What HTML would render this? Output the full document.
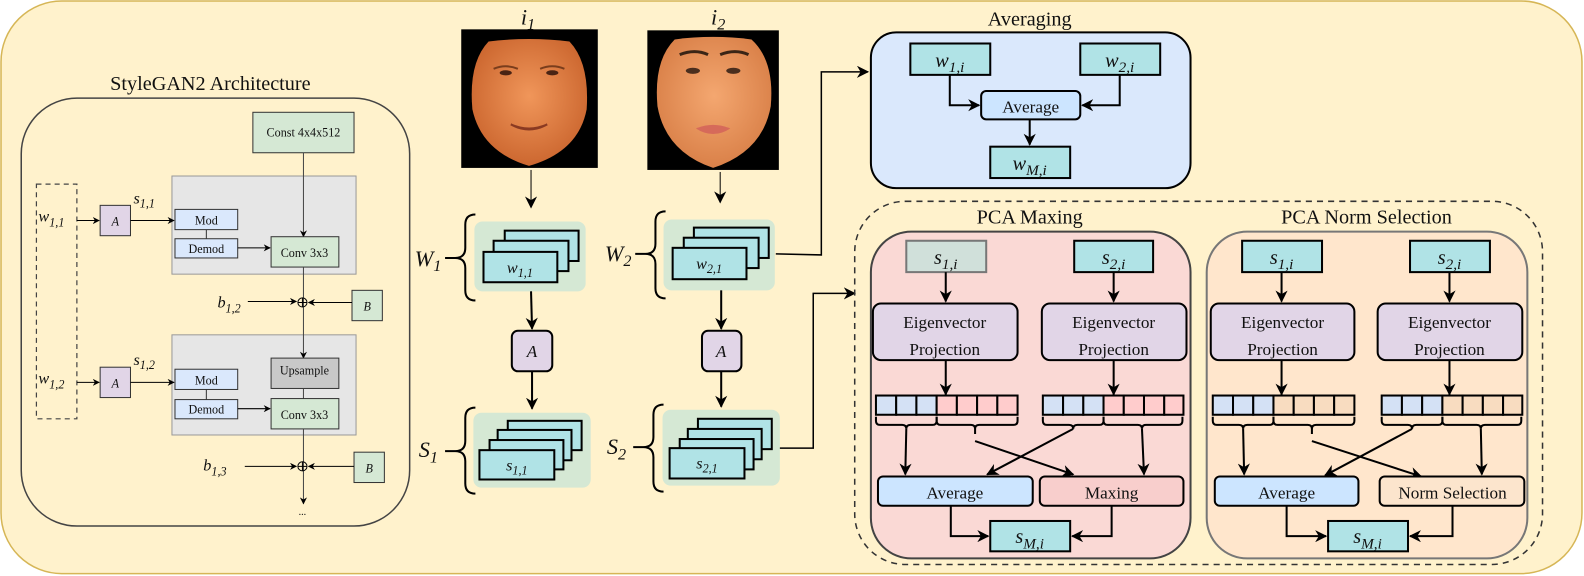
<!DOCTYPE html>
<html><head><meta charset="utf-8"><style>
html,body{margin:0;padding:0;background:#fff;}
svg{display:block;font-family:"Liberation Serif","DejaVu Serif",serif;}
svg text{font-family:"Liberation Serif","DejaVu Serif",serif !important;fill:#111;}
.it{font-style:italic;}
</style></head><body>
<svg width="1584" height="576" viewBox="0 0 1566 569.4" preserveAspectRatio="none" xmlns="http://www.w3.org/2000/svg" font-family="Liberation Serif, DejaVu Serif, serif">
<defs>
<marker id="ar" viewBox="0 0 10 10" refX="9" refY="5" markerWidth="7" markerHeight="7" orient="auto" markerUnits="userSpaceOnUse">
<path d="M0,0 L10,5 L0,10 L3,5 Z" fill="#000"/></marker>
<marker id="ab" viewBox="0 0 10 10" refX="9" refY="5" markerWidth="12" markerHeight="12" orient="auto" markerUnits="userSpaceOnUse">
<path d="M0,0 L10,5 L0,10 L3,5 Z" fill="#000"/></marker>
<radialGradient id="sk1" cx="50%" cy="45%" r="60%"><stop offset="0" stop-color="#f0965a"/><stop offset="1" stop-color="#c9632c"/></radialGradient>
<radialGradient id="sk2" cx="50%" cy="45%" r="60%"><stop offset="0" stop-color="#f4a770"/><stop offset="1" stop-color="#d77d45"/></radialGradient>
</defs>
<rect x="1" y="1" width="1563" height="566" rx="60" fill="#fff2cc" stroke="#d6b656" stroke-width="1.5"/>

<!-- StyleGAN2 -->
<text x="208" y="89" font-size="20" text-anchor="middle">StyleGAN2 Architecture</text>
<rect x="21" y="97" width="384" height="423" rx="55" fill="none" stroke="#444" stroke-width="1.5"/>
<rect x="250" y="111" width="100" height="40" fill="#d5e8d4" stroke="#333"/>
<text x="300" y="135" font-size="12" text-anchor="middle">Const 4x4x512</text>
<rect x="170" y="174" width="182" height="97" fill="#e6e6e6" stroke="#999"/>
<rect x="170" y="331" width="182" height="99" fill="#e6e6e6" stroke="#999"/>
<rect x="36" y="182" width="40" height="232" fill="none" stroke="#444" stroke-dasharray="5,4" stroke-width="1.2"/>
<text x="38" y="219" font-size="16" class="it">w<tspan font-size="12" dy="5">1,1</tspan></text>
<text x="38" y="379" font-size="16" class="it">w<tspan font-size="12" dy="5">1,2</tspan></text>
<line x1="76" y1="218" x2="98" y2="218" stroke="#000" marker-end="url(#ar)"/>
<line x1="76" y1="378" x2="98" y2="378" stroke="#000" marker-end="url(#ar)"/>
<rect x="99" y="203" width="30" height="30" fill="#e1d5e7" stroke="#333"/>
<text x="114" y="223" font-size="12" class="it" text-anchor="middle">A</text>
<rect x="99" y="363" width="30" height="30" fill="#e1d5e7" stroke="#333"/>
<text x="114" y="383" font-size="12" class="it" text-anchor="middle">A</text>
<line x1="129" y1="218" x2="172" y2="218" stroke="#000" marker-end="url(#ar)"/>
<line x1="129" y1="378" x2="172" y2="378" stroke="#000" marker-end="url(#ar)"/>
<text x="132" y="201" font-size="16" class="it">s<tspan font-size="12" dy="4">1,1</tspan></text>
<text x="132" y="361" font-size="16" class="it">s<tspan font-size="12" dy="4">1,2</tspan></text>
<rect x="173" y="207" width="62" height="20" fill="#dae8fc" stroke="#333"/>
<text x="204" y="222" font-size="12" text-anchor="middle">Mod</text>
<rect x="173" y="236" width="62" height="19" fill="#dae8fc" stroke="#333"/>
<text x="204" y="250" font-size="12" text-anchor="middle">Demod</text>
<line x1="204" y1="227" x2="204" y2="236" stroke="#333"/>
<rect x="173" y="365" width="62" height="20" fill="#dae8fc" stroke="#333"/>
<text x="204" y="380" font-size="12" text-anchor="middle">Mod</text>
<rect x="173" y="395" width="62" height="19" fill="#dae8fc" stroke="#333"/>
<text x="204" y="409" font-size="12" text-anchor="middle">Demod</text>
<line x1="204" y1="385" x2="204" y2="395" stroke="#333"/>
<line x1="235" y1="245" x2="267" y2="245" stroke="#000" marker-end="url(#ar)"/>
<line x1="235" y1="404" x2="267" y2="404" stroke="#000" marker-end="url(#ar)"/>
<line x1="300" y1="151" x2="300" y2="234" stroke="#444" marker-end="url(#ar)"/>
<rect x="268" y="234" width="67" height="30" fill="#d5e8d4" stroke="#333"/>
<text x="301" y="254" font-size="12" text-anchor="middle">Conv 3x3</text>
<line x1="300" y1="264" x2="300" y2="354" stroke="#444" marker-end="url(#ar)"/>
<rect x="268" y="354" width="67" height="30" fill="#c8c8c8" stroke="#333"/>
<text x="301" y="370" font-size="12" text-anchor="middle">Upsample</text>
<line x1="300" y1="384" x2="300" y2="394" stroke="#444"/>
<rect x="268" y="394" width="67" height="30" fill="#d5e8d4" stroke="#333"/>
<text x="301" y="414" font-size="12" text-anchor="middle">Conv 3x3</text>
<line x1="300" y1="424" x2="300" y2="498" stroke="#444" marker-end="url(#ar)"/>
<text x="299" y="509" font-size="10" text-anchor="middle">...</text>
<circle cx="299" cy="299" r="4.5" fill="none" stroke="#000"/><path d="M294.5,299h9M299,294.5v9" stroke="#000"/>
<circle cx="299" cy="461" r="4.5" fill="none" stroke="#000"/><path d="M294.5,461h9M299,456.5v9" stroke="#000"/>
<text x="215" y="304" font-size="16" class="it">b<tspan font-size="12" dy="5">1,2</tspan></text>
<text x="201" y="465" font-size="16" class="it">b<tspan font-size="12" dy="5">1,3</tspan></text>
<line x1="245" y1="298" x2="293" y2="298" stroke="#000" marker-end="url(#ar)"/>
<line x1="242" y1="461" x2="293" y2="461" stroke="#000" marker-end="url(#ar)"/>
<rect x="348" y="287" width="30" height="30" fill="#d5e8d4" stroke="#333"/>
<text x="363" y="307" font-size="12" class="it" text-anchor="middle">B</text>
<rect x="350" y="447" width="30" height="30" fill="#d5e8d4" stroke="#333"/>
<text x="365" y="467" font-size="12" class="it" text-anchor="middle">B</text>
<line x1="348" y1="299" x2="305" y2="299" stroke="#000" marker-end="url(#ar)"/>
<line x1="350" y1="461" x2="305" y2="461" stroke="#000" marker-end="url(#ar)"/>

<!-- faces -->
<text x="522" y="24" font-size="22" class="it" text-anchor="middle">i<tspan font-size="16" dy="5">1</tspan></text>
<text x="710" y="24" font-size="22" class="it" text-anchor="middle">i<tspan font-size="16" dy="5">2</tspan></text>
<rect x="456" y="29" width="135" height="137" fill="#000"/>
<path d="M483,41 Q523,36 563,41 Q583,62 580,108 Q572,150 523,164 Q476,150 467,108 Q463,62 483,41Z" fill="url(#sk1)"/>
<path d="M488,68q12,-5 24,0M534,68q12,-5 24,0" stroke="#7a3d1c" stroke-width="2" fill="none"/>
<ellipse cx="500" cy="72" rx="6" ry="2.5" fill="#4a2414"/><ellipse cx="546" cy="72" rx="6" ry="2.5" fill="#4a2414"/>
<path d="M505,123 q18,10 36,0 q-18,8 -36,0" fill="#fff0d0" stroke="#8a3a22" stroke-width="2"/>
<rect x="640" y="30" width="130" height="138" fill="#000"/>
<path d="M667,39 Q705,34 743,39 Q766,60 762,105 Q754,150 705,166 Q658,150 650,105 Q646,60 667,39Z" fill="url(#sk2)"/>
<path d="M672,54q15,-6 28,0M712,54q15,-6 28,0" stroke="#3a2516" stroke-width="3" fill="none"/>
<ellipse cx="685" cy="70" rx="7" ry="3" fill="#4a2e1e"/><ellipse cx="725" cy="70" rx="7" ry="3" fill="#4a2e1e"/>
<path d="M688,127 q17,-7 34,0 q-17,11 -34,0Z" fill="#d66a5a"/>
<line x1="525" y1="168" x2="525" y2="205" stroke="#000" marker-end="url(#ab)"/>
<line x1="712" y1="170" x2="712" y2="200" stroke="#000" marker-end="url(#ab)"/>

<!-- W1 / S1 -->
<g stroke="#000" stroke-width="2" fill="none">
<path d="M470,212 q-10,0 -10,10 v23 q0,10 -10,10 q10,0 10,10 v22 q0,10 10,10 M440,255 h10"/>
<path d="M470,403 q-10,0 -10,10 v23 q0,10 -10,10 q10,0 10,10 v22 q0,10 10,10 M440,446 h10"/>
<path d="M658,209 q-10,0 -10,10 v22 q0,10 -10,10 q10,0 10,10 v24 q0,10 10,10 M628,251 h10"/>
<path d="M656,400 q-10,0 -10,10 v22 q0,10 -10,10 q10,0 10,10 v24 q0,10 10,10 M626,442 h10"/>
</g>
<text x="410" y="263" font-size="22" class="it">W<tspan font-size="16" dy="5">1</tspan></text>
<text x="414" y="452" font-size="22" class="it">S<tspan font-size="16" dy="5">1</tspan></text>
<text x="598" y="258" font-size="22" class="it">W<tspan font-size="16" dy="5">2</tspan></text>
<text x="600" y="449" font-size="22" class="it">S<tspan font-size="16" dy="5">2</tspan></text>

<g stroke="#000" stroke-width="2" fill="#b0e3e6">
<rect x="469" y="219" width="110" height="69" rx="8" fill="#d5e8d4" stroke="none"/>
<rect x="499" y="228" width="73" height="30"/><rect x="488" y="238" width="74" height="30"/><rect x="478" y="249" width="73" height="30"/>
<rect x="468" y="408" width="116" height="74" rx="8" fill="#d5e8d4" stroke="none"/>
<rect x="502" y="416" width="73" height="29"/><rect x="492" y="425" width="73" height="30"/><rect x="484" y="435" width="73" height="29"/><rect x="474" y="445" width="74" height="29"/>
<rect x="656" y="217" width="110" height="70" rx="8" fill="#d5e8d4" stroke="none"/>
<rect x="686" y="225" width="74" height="30"/><rect x="676" y="235" width="74" height="30"/><rect x="665" y="245" width="73" height="31"/>
<rect x="655" y="405" width="116" height="75" rx="8" fill="#d5e8d4" stroke="none"/>
<rect x="690" y="414" width="73" height="30"/><rect x="680" y="424" width="73" height="30"/><rect x="672" y="434" width="73" height="30"/><rect x="662" y="443" width="74" height="30"/>
</g>
<text x="514" y="270" font-size="16" class="it" text-anchor="middle">w<tspan font-size="12" dy="4">1,1</tspan></text>
<text x="511" y="465" font-size="16" class="it" text-anchor="middle">s<tspan font-size="12" dy="4">1,1</tspan></text>
<text x="701" y="266" font-size="16" class="it" text-anchor="middle">w<tspan font-size="12" dy="4">2,1</tspan></text>
<text x="699" y="463" font-size="16" class="it" text-anchor="middle">s<tspan font-size="12" dy="4">2,1</tspan></text>
<line x1="525" y1="288" x2="526" y2="325" stroke="#000" stroke-width="2" marker-end="url(#ab)"/>
<line x1="526" y1="367" x2="526" y2="404" stroke="#000" stroke-width="2" marker-end="url(#ab)"/>
<line x1="713" y1="287" x2="713" y2="325" stroke="#000" stroke-width="2" marker-end="url(#ab)"/>
<line x1="713" y1="367" x2="713" y2="402" stroke="#000" stroke-width="2" marker-end="url(#ab)"/>
<rect x="506" y="327" width="40" height="40" rx="6" fill="#e1d5e7" stroke="#000" stroke-width="2"/>
<text x="526" y="353" font-size="17" class="it" text-anchor="middle">A</text>
<rect x="694" y="327" width="39" height="40" rx="6" fill="#e1d5e7" stroke="#000" stroke-width="2"/>
<text x="713" y="353" font-size="17" class="it" text-anchor="middle">A</text>
<polyline points="767,251 812,252 812,71 858,71" fill="none" stroke="#000" stroke-width="1.5" marker-end="url(#ab)"/>
<polyline points="771,443 804,443 804,290 845,290" fill="none" stroke="#000" stroke-width="1.5" marker-end="url(#ab)"/>

<!-- Averaging -->
<text x="1018" y="25" font-size="20" text-anchor="middle">Averaging</text>
<rect x="861" y="32" width="316" height="154" rx="25" fill="#dae8fc" stroke="#000" stroke-width="2"/>
<rect x="900" y="43" width="79" height="31" fill="#b0e3e6" stroke="#000" stroke-width="2"/>
<text x="939" y="66" font-size="20" class="it" text-anchor="middle">w<tspan font-size="15" dy="5">1,i</tspan></text>
<rect x="1068" y="43" width="79" height="31" fill="#b0e3e6" stroke="#000" stroke-width="2"/>
<text x="1107" y="66" font-size="20" class="it" text-anchor="middle">w<tspan font-size="15" dy="5">2,i</tspan></text>
<rect x="970" y="90" width="98" height="28" rx="5" fill="#cce5ff" stroke="#000" stroke-width="2"/>
<text x="1019" y="111" font-size="17" text-anchor="middle">Average</text>
<rect x="979" y="145" width="79" height="31" fill="#b0e3e6" stroke="#000" stroke-width="2"/>
<text x="1018" y="168" font-size="20" class="it" text-anchor="middle">w<tspan font-size="15" dy="5">M,i</tspan></text>
<g fill="none" stroke="#000" stroke-width="2">
<polyline points="939,74 939,104 968,104" marker-end="url(#ab)"/>
<polyline points="1107,74 1107,104 1070,104" marker-end="url(#ab)"/>
<line x1="1018" y1="118" x2="1018" y2="143" marker-end="url(#ab)"/>
</g>

<!-- dashed PCA group -->
<rect x="845" y="199" width="680" height="359" rx="50" fill="none" stroke="#333" stroke-width="1.5" stroke-dasharray="6,5"/>
<text x="1018" y="221" font-size="20" text-anchor="middle">PCA Maxing</text>
<text x="1351" y="221" font-size="20" text-anchor="middle">PCA Norm Selection</text>
<rect x="861" y="229" width="316" height="323" rx="40" fill="#fad9d5" stroke="#444" stroke-width="2"/>
<rect x="1193" y="229" width="317" height="323" rx="40" fill="#ffe6cc" stroke="#777" stroke-width="2"/>

<rect x="896" y="238" width="79" height="31" fill="#d0e0da" stroke="#777" stroke-width="2"/>
<text x="935" y="261" font-size="20" class="it" text-anchor="middle">s<tspan font-size="15" dy="5">1,i</tspan></text>
<rect x="1062" y="238" width="78" height="31" fill="#b0e3e6" stroke="#000" stroke-width="2"/>
<text x="1101" y="261" font-size="20" class="it" text-anchor="middle">s<tspan font-size="15" dy="5">2,i</tspan></text>
<rect x="1228" y="238" width="79" height="31" fill="#b0e3e6" stroke="#000" stroke-width="2"/>
<text x="1267" y="261" font-size="20" class="it" text-anchor="middle">s<tspan font-size="15" dy="5">1,i</tspan></text>
<rect x="1394" y="238" width="79" height="31" fill="#b0e3e6" stroke="#000" stroke-width="2"/>
<text x="1433" y="261" font-size="20" class="it" text-anchor="middle">s<tspan font-size="15" dy="5">2,i</tspan></text>

<g stroke="#000" stroke-width="2" fill="#e1d5e7">
<rect x="863" y="300" width="143" height="56" rx="8"/><rect x="1030" y="300" width="143" height="56" rx="8"/>
<rect x="1197" y="300" width="142" height="56" rx="8"/><rect x="1362" y="300" width="143" height="56" rx="8"/>
</g>
<g font-size="17" text-anchor="middle">
<text x="934" y="324">Eigenvector</text><text x="934" y="351">Projection</text>
<text x="1101" y="324">Eigenvector</text><text x="1101" y="351">Projection</text>
<text x="1268" y="324">Eigenvector</text><text x="1268" y="351">Projection</text>
<text x="1433" y="324">Eigenvector</text><text x="1433" y="351">Projection</text>
</g>
<g fill="none" stroke="#000" stroke-width="2">
<line x1="935" y1="269" x2="935" y2="298" marker-end="url(#ab)"/>
<line x1="1101" y1="269" x2="1101" y2="298" marker-end="url(#ab)"/>
<line x1="1267" y1="269" x2="1267" y2="298" marker-end="url(#ab)"/>
<line x1="1433" y1="269" x2="1433" y2="298" marker-end="url(#ab)"/>
<line x1="935" y1="356" x2="935" y2="390" marker-end="url(#ab)"/>
<line x1="1101" y1="356" x2="1101" y2="390" marker-end="url(#ab)"/>
<line x1="1267" y1="356" x2="1267" y2="390" marker-end="url(#ab)"/>
<line x1="1433" y1="356" x2="1433" y2="390" marker-end="url(#ab)"/>
</g>

<g stroke="#000" stroke-width="2">
<g fill="#d4e1f5"><rect x="866" y="391" width="20" height="19"/><rect x="886" y="391" width="20" height="19"/><rect x="906" y="391" width="20" height="19"/></g>
<g fill="#ffcccc"><rect x="926" y="391" width="20" height="19"/><rect x="946" y="391" width="20" height="19"/><rect x="966" y="391" width="20" height="19"/><rect x="986" y="391" width="20" height="19"/></g>
<g fill="#d4e1f5"><rect x="1031" y="391" width="20" height="19"/><rect x="1051" y="391" width="20" height="19"/><rect x="1071" y="391" width="20" height="19"/></g>
<g fill="#ffcccc"><rect x="1091" y="391" width="20" height="19"/><rect x="1111" y="391" width="20" height="19"/><rect x="1131" y="391" width="20" height="19"/><rect x="1151" y="391" width="19" height="19"/></g>
<g fill="#d4e1f5"><rect x="1199" y="391" width="20" height="19"/><rect x="1219" y="391" width="20" height="19"/><rect x="1239" y="391" width="20" height="19"/></g>
<g fill="#f8dcc0"><rect x="1259" y="391" width="20" height="19"/><rect x="1279" y="391" width="20" height="19"/><rect x="1299" y="391" width="20" height="19"/><rect x="1319" y="391" width="20" height="19"/></g>
<g fill="#d4e1f5"><rect x="1366" y="391" width="20" height="19"/><rect x="1386" y="391" width="20" height="19"/><rect x="1406" y="391" width="20" height="19"/></g>
<g fill="#f8dcc0"><rect x="1426" y="391" width="20" height="19"/><rect x="1446" y="391" width="20" height="19"/><rect x="1466" y="391" width="20" height="19"/><rect x="1486" y="391" width="19" height="19"/></g>
</g>
<g fill="none" stroke="#000" stroke-width="2">
<path d="M866,412 v4 q0,4 4,4 h22 q4,0 4,4 q0,-4 4,-4 h22 q4,0 4,-4 v-4"/>
<path d="M926,412 v4 q0,4 4,4 h30 q4,0 4,4 v5 M964,424 q0,-4 4,-4 h34 q4,0 4,-4 v-4"/>
<path d="M1031,412 v4 q0,4 4,4 h22 q4,0 4,4 q0,-4 4,-4 h22 q4,0 4,-4 v-4"/>
<path d="M1091,412 v4 q0,4 4,4 h30 q4,0 4,4 q0,-4 4,-4 h32 q4,0 4,-4 v-4"/>
<path d="M1199,412 v4 q0,4 4,4 h22 q4,0 4,4 q0,-4 4,-4 h22 q4,0 4,-4 v-4"/>
<path d="M1259,412 v4 q0,4 4,4 h30 q4,0 4,4 v5 M1297,424 q0,-4 4,-4 h34 q4,0 4,-4 v-4"/>
<path d="M1366,412 v4 q0,4 4,4 h22 q4,0 4,4 q0,-4 4,-4 h22 q4,0 4,-4 v-4"/>
<path d="M1426,412 v4 q0,4 4,4 h30 q4,0 4,4 q0,-4 4,-4 h32 q4,0 4,-4 v-4"/>

<line x1="896" y1="424" x2="895" y2="469" marker-end="url(#ab)"/>
<line x1="964" y1="436" x2="1061" y2="469" marker-end="url(#ab)"/>
<line x1="1061" y1="424" x2="976" y2="469" marker-end="url(#ab)"/>
<line x1="1129" y1="424" x2="1131" y2="469" marker-end="url(#ab)"/>
<line x1="1229" y1="424" x2="1230" y2="469" marker-end="url(#ab)"/>
<line x1="1297" y1="436" x2="1405" y2="471" marker-end="url(#ab)"/>
<line x1="1396" y1="424" x2="1310" y2="470" marker-end="url(#ab)"/>
<line x1="1464" y1="424" x2="1465" y2="469" marker-end="url(#ab)"/>
</g>
<g stroke="#000" stroke-width="2">
<rect x="868" y="471" width="153" height="29" rx="5" fill="#cce5ff"/>
<rect x="1028" y="471" width="142" height="29" rx="5" fill="#f8cecc"/>
<rect x="1201" y="471" width="142" height="29" rx="5" fill="#cce5ff"/>
<rect x="1364" y="471" width="143" height="29" rx="5" fill="#fce5cd"/>
<rect x="979" y="515" width="79" height="30" fill="#b0e3e6"/>
<rect x="1313" y="515" width="79" height="30" fill="#b0e3e6"/>
</g>
<g font-size="17" text-anchor="middle">
<text x="944" y="493">Average</text><text x="1099" y="493">Maxing</text>
<text x="1272" y="493">Average</text><text x="1436" y="493">Norm Selection</text>
</g>
<text x="1018" y="537" font-size="20" class="it" text-anchor="middle">s<tspan font-size="15" dy="5">M,i</tspan></text>
<text x="1352" y="537" font-size="20" class="it" text-anchor="middle">s<tspan font-size="15" dy="5">M,i</tspan></text>
<g fill="none" stroke="#000" stroke-width="2">
<polyline points="940,500 940,530 977,530" marker-end="url(#ab)"/>
<polyline points="1099,500 1099,530 1060,530" marker-end="url(#ab)"/>
<polyline points="1272,500 1272,530 1311,530" marker-end="url(#ab)"/>
<polyline points="1436,500 1436,530 1394,530" marker-end="url(#ab)"/>
</g>
</svg>
</body></html>
